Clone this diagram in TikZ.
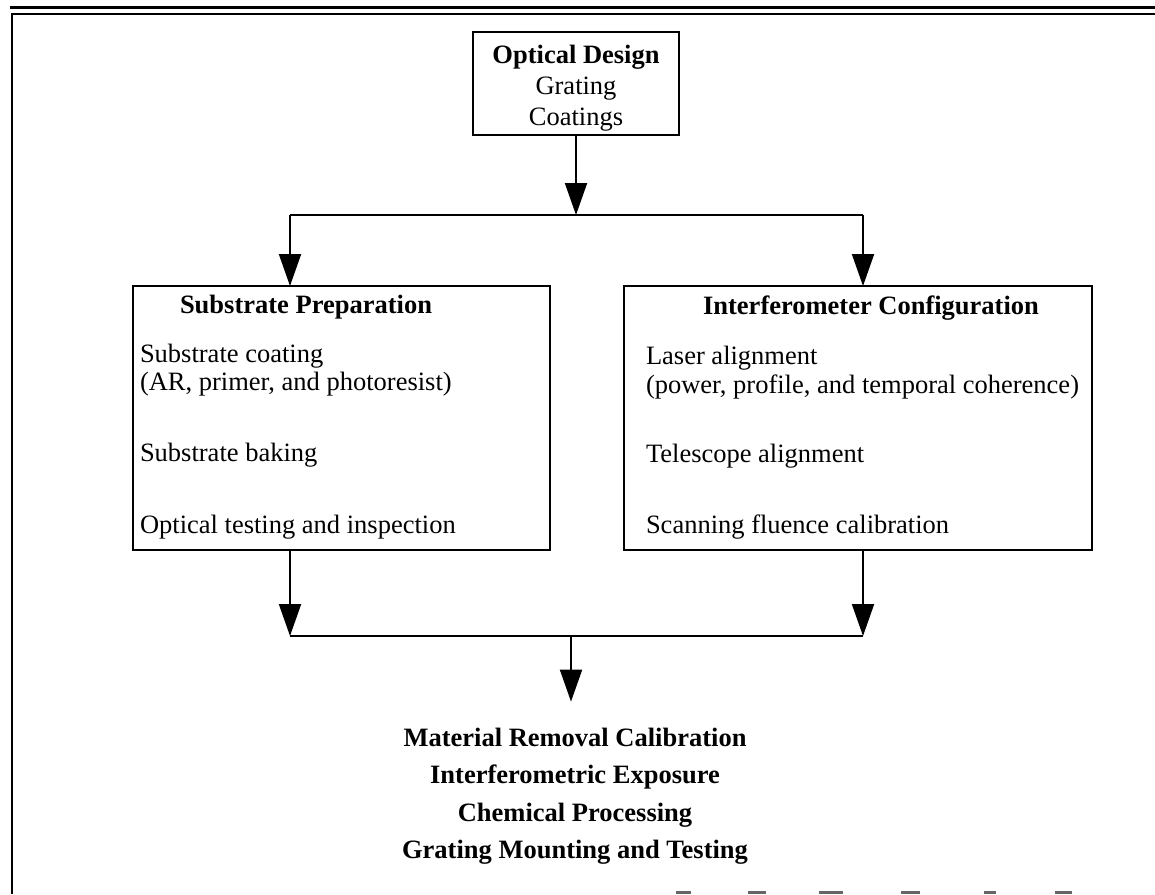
\documentclass[tikz,border=0pt]{standalone}
\usepackage{fontspec}
\setmainfont{Liberation Serif}
\usetikzlibrary{arrows.meta}
\begin{document}
\begin{tikzpicture}[x=1pt,y=-1pt,
  box/.style={draw,line width=2pt,inner sep=0pt,outer sep=0pt,anchor=north west},
  txt/.style={inner sep=0pt,outer sep=0pt,anchor=base west,font=\fontsize{26.5}{31.8}\selectfont},
  ctxt/.style={txt,anchor=base},
  btxt/.style={ctxt,font=\fontsize{26.5}{31.8}\selectfont\bfseries},
  conn/.style={line width=2pt},
  arr/.style={conn,-{Triangle[length=32pt,width=22pt]}},
  frame/.style={line width=2.5pt},
  speck/.style={fill=black!60,draw=none}]
\useasboundingbox (0,0) rectangle (1155,894);
% page frame
\draw[line width=3pt] (10,7) -- (1155,7);
\draw[line width=2pt] (12,14) -- (1155,14);
\draw[frame] (12,13) -- (12,894);
% boxes
\node[box,minimum width=206pt,minimum height=103pt] (od) at (473,32) {};
\node[box,minimum width=417pt,minimum height=264pt] (sp) at (133,286) {};
\node[box,minimum width=468pt,minimum height=264pt] (ic) at (624,286) {};
% optical design text
\node[btxt] (odt) at (576,63) {Optical Design};
\node[ctxt] (odg) at (576,94) {Grating};
\node[ctxt] (odc) at (576,125) {Coatings};
% substrate preparation text
\node[btxt] (spt) at (306,313) {Substrate Preparation};
\node[txt] (sp1) at (140,362) {Substrate coating};
\node[txt] (sp2) at (140,390) {(AR, primer, and photoresist)};
\node[txt] (sp3) at (140,461) {Substrate baking};
\node[txt] (sp4) at (140,533) {Optical testing and inspection};
% interferometer text
\node[btxt] (ict) at (871,314) {Interferometer Configuration};
\node[txt] (ic1) at (646,364) {Laser alignment};
\node[txt] (ic2) at (646,393) {(power, profile, and temporal coherence)};
\node[txt] (ic3) at (646,462) {Telescope alignment};
\node[txt] (ic4) at (646,533) {Scanning fluence calibration};
% bottom steps
\node[btxt] (mat) at (575,746) {Material Removal Calibration};
\node[btxt] (exp) at (575,783.5) {Interferometric Exposure};
\node[btxt] (chem) at (575,821) {Chemical Processing};
\node[btxt] (mount) at (575,858) {Grating Mounting and Testing};
% junction coordinates
\coordinate (s) at (576,215);
\coordinate (sl) at (290,215);
\coordinate (sr) at (863,215);
\coordinate (j) at (571,636);
\coordinate (jl) at (290,636);
\coordinate (jr) at (863,636);
% connectors
\draw[arr] (od.south) -- (s);
\draw[conn] (sl) -- (sr);
\draw[arr] (sl) -- (sl |- sp.north);
\draw[arr] (sr) -- (sr |- ic.north);
\draw[arr] (jl |- sp.south) -- (jl);
\draw[arr] (jr |- ic.south) -- (jr);
\draw[conn] (jl) -- (jr);
\draw[arr,shorten >=26pt] (j) -- (j |- mat.north);
% scan specks at bottom edge
\fill[speck] (676,891) rectangle (691,894);
\fill[speck] (748,891) rectangle (766,894);
\fill[speck] (819,891) rectangle (843,894);
\fill[speck] (901,891) rectangle (920,894);
\fill[speck] (984,891) rectangle (996,894);
\fill[speck] (1055,891) rectangle (1072,894);
\end{tikzpicture}
\end{document}
